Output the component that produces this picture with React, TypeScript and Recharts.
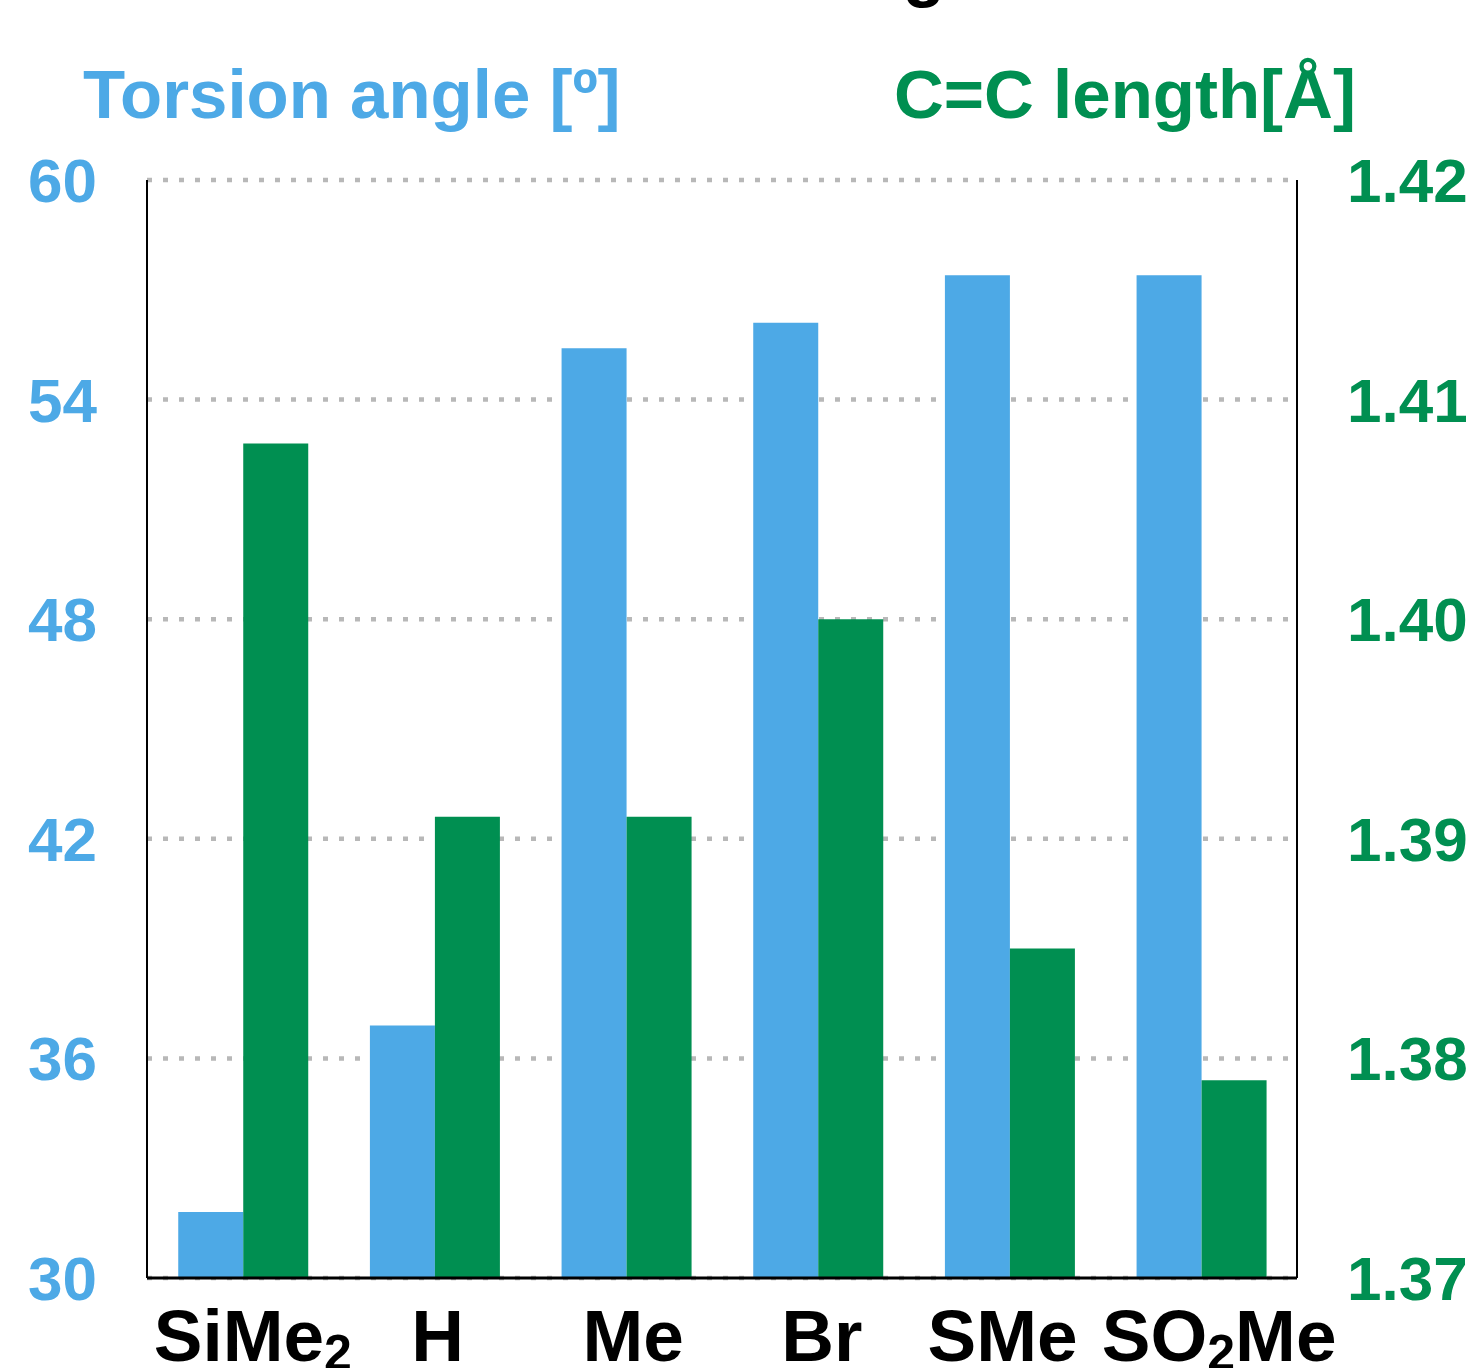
import React from 'react';
import { BarChart, Bar, XAxis, YAxis, CartesianGrid } from 'recharts';

const categories = ['SiMe2', 'H', 'Me', 'Br', 'SMe', 'SO2Me'];
const torsionAngle = [31.8, 36.9, 55.4, 56.1, 57.4, 57.4];
const ccLength = [1.408, 1.391, 1.391, 1.4, 1.385, 1.379];
const leftTicks = [30, 36, 42, 48, 54, 60];
const rightTicks = [1.37, 1.38, 1.39, 1.4, 1.41, 1.42];

const BLUE = '#4DA9E6';
const GREEN = '#008F51';
const FONT = '"Liberation Sans", Arial, Helvetica, sans-serif';

// small horizontal nudges of the category labels (typesetting style of the original)
const LABEL_NUDGE: Record<string, number> = { SiMe2: 10, H: 3, Me: 7, Br: 4, SMe: -7, SO2Me: 18 };

const data = categories.map((c, i) => ({ name: c, angle: torsionAngle[i], length: ccLength[i] }));

const CatTick = (props: any) => {
  const { x, y, payload } = props;
  const label = String(payload.value);
  const parts: string[] = label.split(/(\d)/).filter((p: string) => p.length > 0);
  let shifted = false;
  return (
    <text
      x={x + (LABEL_NUDGE[label] || 0)}
      y={y + 83}
      textAnchor="middle"
      fill="#000"
      fontFamily={FONT}
      fontWeight="bold"
      fontSize={73}
    >
      {parts.map((p, i) => {
        if (/\d/.test(p)) {
          shifted = true;
          return (
            <tspan key={i} fontSize={50} dy={9}>
              {p}
            </tspan>
          );
        }
        const dy = shifted ? -9 : 0;
        shifted = false;
        return (
          <tspan key={i} dy={dy}>
            {p}
          </tspan>
        );
      })}
    </text>
  );
};

export default function App() {
  return (
    <div style={{ position: 'absolute', left: 0, top: 0, width: 1479, height: 1368, background: '#fff' }}>
      <BarChart
        width={1479}
        height={1368}
        data={data}
        margin={{ top: 180, right: 0, bottom: 0, left: 0 }}
        barCategoryGap="16.3%"
        barGap={0}
      >
        <CartesianGrid
          yAxisId="left"
          vertical={false}
          stroke="#B8B8B8"
          strokeWidth={4.5}
          strokeDasharray="5 11"
        />
        <XAxis
          dataKey="name"
          height={90}
          tickLine={false}
          tickSize={0}
          tickMargin={0}
          axisLine={{ stroke: '#000', strokeWidth: 3 }}
          tick={<CatTick />}
          interval={0}
        />
        <YAxis
          yAxisId="left"
          orientation="left"
          width={147}
          domain={[30, 60]}
          ticks={leftTicks}
          allowDataOverflow
          tickLine={false}
          tickSize={0}
          tickMargin={50}
          axisLine={{ stroke: '#000', strokeWidth: 2 }}
          tick={{ fill: BLUE, fontSize: 62, fontWeight: 'bold', fontFamily: FONT }}
        />
        <YAxis
          yAxisId="right"
          orientation="right"
          width={182}
          domain={[1.37, 1.42]}
          ticks={rightTicks}
          allowDataOverflow
          tickLine={false}
          tickSize={0}
          tickMargin={50}
          tickFormatter={(v: number) => v.toFixed(2)}
          axisLine={{ stroke: '#000', strokeWidth: 2 }}
          tick={{ fill: GREEN, fontSize: 62, fontWeight: 'bold', fontFamily: FONT }}
        />
        <Bar yAxisId="left" dataKey="angle" fill={BLUE} isAnimationActive={false} />
        <Bar yAxisId="right" dataKey="length" fill={GREEN} isAnimationActive={false} />
      </BarChart>
      <svg
        width={1479}
        height={1368}
        style={{ position: 'absolute', left: 0, top: 0, pointerEvents: 'none' }}
      >
        <text x={778} y={-7} fill="#000" fontFamily={FONT} fontWeight="bold" fontSize={70}>
          Length
        </text>
        <text x={83} y={118} fill={BLUE} fontFamily={FONT} fontWeight="bold" fontSize={69}>
          Torsion angle [º]
        </text>
        <text x={894} y={118} fill={GREEN} fontFamily={FONT} fontWeight="bold" fontSize={69}>
          C=C length[Å]
        </text>
      </svg>
    </div>
  );
}
